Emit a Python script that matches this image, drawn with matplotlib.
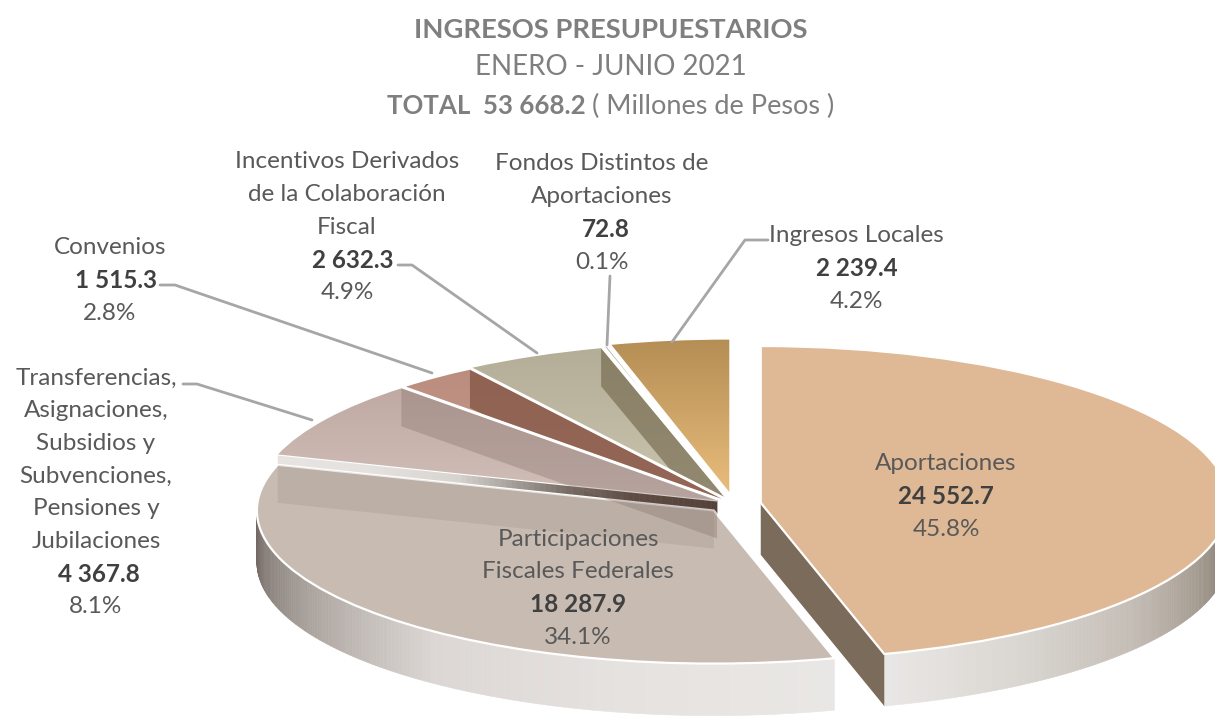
"""
Ingresos presupuestarios, exploded 3D looking pie
"""
# ###
# 1.Import packages
# ###
import matplotlib
matplotlib.use('Agg')
import matplotlib.pyplot as plt
import numpy as np
from matplotlib.collections import PolyCollection
from matplotlib.colors import LinearSegmentedColormap
from matplotlib.patches import Polygon
from matplotlib.transforms import Affine2D

# ###
# 2.Data
# ###
categories = ['Aportaciones', 'Participaciones Fiscales Federales',
              'Transferencias', 'Convenios', 'Incentivos', 'Fondos Distintos',
              'Ingresos Locales']
amounts = [24552.7, 18287.9, 4367.8, 1515.3, 2632.3, 72.8, 2239.4]
percents = [45.8, 34.1, 8.1, 2.8, 4.9, 0.1, 4.2]
total_amount = 53668.2

label_lines = [['Aportaciones'],
               ['Participaciones', 'Fiscales Federales'],
               ['Transferencias,', 'Asignaciones,', 'Subsidios y', 'Subvenciones,', 'Pensiones y', 'Jubilaciones'],
               ['Convenios'],
               ['Incentivos Derivados', 'de la Colaboración', 'Fiscal'],
               ['Fondos Distintos de', 'Aportaciones'],
               ['Ingresos Locales']]

# ###
# 3.Const variables
# ###
W, H = 1215, 717
FONT = ['Lato', 'DejaVu Sans']
TXT = '#595959'
TXT_BOLD = '#404040'
TXT_TITLE = '#7f7f7f'
LEADER = '#a6a6a6'
FS = 17.5

PIE_X, PIE_Y = 734, H - 504
PIE_R = 468
SQUASH = 0.335
DEPTH = 52
WALL_DEPTH = 38
EXPLODE = [27, 28, 20, 20, 24, 30, 36]
RADII = [468, 457, 460, 460, 460, 460, 455]
COLORS = ['#dfb995', '#c8bbb2', '#c4aea8', '#bd8f80', '#b9b29d', '#b5ae98', '#c9a060']
GRADIENTS = {2: ('#b9a19a', '#d2c0ba'), 3: ('#b98b7c', '#c49a8b'),
             4: ('#b3ac96', '#cbc5b0'), 6: ('#b58e55', '#e9bd7c')}
# slice: colour, alpha, stay inside the slice
WALL_SHADES = {1: ('#8f8278', 0.20, False), 2: ('#85706a', 0.35, False),
               3: ('#7e5040', 0.70, True), 4: ('#6f6549', 0.62, True)}

# x centre, first line y, line steps come from LABEL_STEP
LABEL_POS = [(946, 464), (578, 539), (96, 378), (110, 248), (347, 162), (602, 164), (856, 236)]
AMOUNT_DX = [0, 0, 3, 6, 6, 4, 1]
LABEL_STEP = 32.7
LEADERS = [[(768, 240), (745, 240), (672, 342)],
           [(610, 276), (607, 345)],
           [(398, 265), (412, 265), (537, 353)],
           [(160, 285), (175, 285), (432, 373)],
           [(183, 384), (197, 384), (312, 420)]]

# ###
# 3.Define functions
# ###
def edge_point(wedge, theta):
    cy = PIE_Y + (wedge.center[1] - PIE_Y) * SQUASH
    return (wedge.center[0] + wedge.r * np.cos(np.radians(theta)),
            cy + wedge.r * SQUASH * np.sin(np.radians(theta)))

def apex_point(wedge):
    return (wedge.center[0], PIE_Y + (wedge.center[1] - PIE_Y) * SQUASH)

def draw_rim(ax, wedge, t_start, t_end, stops, zorder):
    # Rim of one slice, made of thin shaded strips
    cmap = LinearSegmentedColormap.from_list('rim', stops)
    angles = np.linspace(t_start, t_end, 160)
    quads, colors = [], []
    for i in range(len(angles) - 1):
        x0, y0 = edge_point(wedge, angles[i])
        x1, y1 = edge_point(wedge, angles[i + 1])
        quads.append([(x0, y0), (x1, y1), (x1, y1 - DEPTH), (x0, y0 - DEPTH)])
        colors.append(cmap(i / (len(angles) - 2)))
    ax.add_collection(PolyCollection(quads, facecolors=colors, edgecolors=colors, linewidths=0.4, zorder=zorder))

def draw_shaded_wall(ax, wedge, theta, stops, zorder):
    # Radial wall, shaded from the outer edge to the apex
    cmap = LinearSegmentedColormap.from_list('wall', stops)
    ax_x, ax_y = apex_point(wedge)
    out_x, out_y = edge_point(wedge, theta)
    steps = np.linspace(0, 1, 80)
    quads, colors = [], []
    for i in range(len(steps) - 1):
        x0, y0 = out_x + (ax_x - out_x) * steps[i], out_y + (ax_y - out_y) * steps[i]
        x1, y1 = out_x + (ax_x - out_x) * steps[i + 1], out_y + (ax_y - out_y) * steps[i + 1]
        quads.append([(x0, y0), (x1, y1), (x1, y1 - DEPTH), (x0, y0 - DEPTH)])
        colors.append(cmap(steps[i]))
    ax.add_collection(PolyCollection(quads, facecolors=colors, edgecolors=colors, linewidths=0.4, zorder=zorder))

def draw_flat_wall(ax, wedge, theta, color, zorder):
    a = apex_point(wedge)
    o = edge_point(wedge, theta)
    ax.add_patch(Polygon([a, o, (o[0], o[1] - DEPTH), (a[0], a[1] - DEPTH)], closed=True,
                         facecolor=color, edgecolor='none', zorder=zorder))

def draw_gradient_top(ax, wedge, top, bottom, zorder):
    cmap = LinearSegmentedColormap.from_list('top', [top, bottom])
    ax_x, ax_y = apex_point(wedge)
    extent = [ax_x - wedge.r, ax_x + 10, ax_y - 5, ax_y + wedge.r * SQUASH]
    im = ax.imshow(np.linspace(1, 0, 128).reshape(-1, 1), cmap=cmap, extent=extent, aspect='auto',
                   origin='lower', zorder=zorder)
    im.set_clip_path(wedge)

def draw_labels(ax):
    for i, lines in enumerate(label_lines):
        x, y = LABEL_POS[i]
        for line in lines:
            ax.text(x, H - y, line, ha='center', va='center', fontsize=FS, color=TXT, family=FONT, zorder=20)
            y += LABEL_STEP
        amount = '{:,.1f}'.format(amounts[i]).replace(',', ' ')
        ax.text(x + AMOUNT_DX[i], H - y, amount, ha='center', va='center', fontsize=FS, fontweight='bold',
                color=TXT_BOLD, family=FONT, zorder=20)
        y += LABEL_STEP
        pct = '{:.1f}%'.format(percents[i])
        ax.text(x, H - y, pct, ha='center', va='center', fontsize=FS, color=TXT, family=FONT, zorder=20)

def draw_title(ax):
    ax.text(611, H - 30, 'INGRESOS PRESUPUESTARIOS', ha='center', va='center', fontsize=19.7, fontweight='bold',
            color=TXT_TITLE, family=FONT)
    ax.text(611, H - 67, 'ENERO - JUNIO 2021', ha='center', va='center', fontsize=20, color=TXT_TITLE, family=FONT)
    total_txt = 'TOTAL  ' + '{:,.1f}'.format(total_amount).replace(',', ' ')
    ax.text(586, H - 106, total_txt, ha='right', va='center', fontsize=18.6, fontweight='bold', color=TXT_TITLE,
            family=FONT)
    ax.text(592, H - 106, '( Millones de Pesos )', ha='left', va='center', fontsize=19.5, color=TXT_TITLE,
            family=FONT)

# ###
# 4.Main function
# ###
def main_function():
    fig = plt.figure(figsize=(W / 100, H / 100), dpi=100, facecolor='w')
    ax = fig.add_axes([0, 0, 1, 1])

    wedges, _ = ax.pie(amounts, explode=EXPLODE, colors=COLORS, radius=PIE_R,
                       center=(PIE_X, PIE_Y), startangle=90, counterclock=False,
                       wedgeprops={'edgecolor': 'white', 'linewidth': 1.6})

    # Flatten the pie around its centre, the slices differ a little in size
    squash = Affine2D().translate(-PIE_X, -PIE_Y).scale(1, SQUASH).translate(PIE_X, PIE_Y) + ax.transData
    for w, r in zip(wedges, RADII):
        w.set_radius(r)
        w.set_transform(squash)

    # Painter order: the back slices first, the two big front slices last
    for z, i in zip([7, 6, 5, 4, 3, 2, 1], range(7)):
        wedges[i].set_zorder(z + 5)

    draw_shaded_wall(ax, wedges[2], wedges[2].theta2,
                     ['#e6e3e0', '#e4e1de', '#d8d4d0', '#8a817a', '#4a3a30', '#3a2a20'], 8.5)
    draw_rim(ax, wedges[1], -180, wedges[1].theta2,
             ['#6e6560', '#a8a09b', '#dcd7d4', '#e6e2df', '#e9e7e5'], 10.5)
    draw_rim(ax, wedges[0], wedges[0].theta1, 0, ['#e9e7e5', '#d9d5d0', '#c4bdb5', '#a0978c', '#6b6054'], 11.5)

    # Cut wall of the largest slice
    draw_flat_wall(ax, wedges[0], wedges[0].theta1, '#7a6b5b', 11.6)

    for i, (top, bottom) in GRADIENTS.items():
        draw_gradient_top(ax, wedges[i], top, bottom, wedges[i].get_zorder() + 0.1)

    # Darker see through walls on the tops
    for i, (shade, alpha, inside) in WALL_SHADES.items():
        w = wedges[i]
        a = apex_point(w)
        o = edge_point(w, w.theta1)
        wall = ax.add_patch(Polygon([a, o, (o[0], o[1] - WALL_DEPTH), (a[0], a[1] - WALL_DEPTH)], closed=True,
                                    facecolor=shade, edgecolor='none', alpha=alpha, zorder=14))
        if inside: wall.set_clip_path(w)

    for line in LEADERS:
        xs = [p[0] for p in line]
        ys = [H - p[1] for p in line]
        ax.plot(xs, ys, color=LEADER, lw=2, zorder=15, solid_capstyle='round')

    draw_title(ax)
    draw_labels(ax)

    ax.set_aspect('auto')
    ax.set_xlim(0, W)
    ax.set_ylim(0, H)
    ax.axis('off')
    fig.savefig('out.png', dpi=100, facecolor='w')
    plt.close(fig)

# ###
# 5.Run main function
# ###
if __name__ == '__main__': main_function()
